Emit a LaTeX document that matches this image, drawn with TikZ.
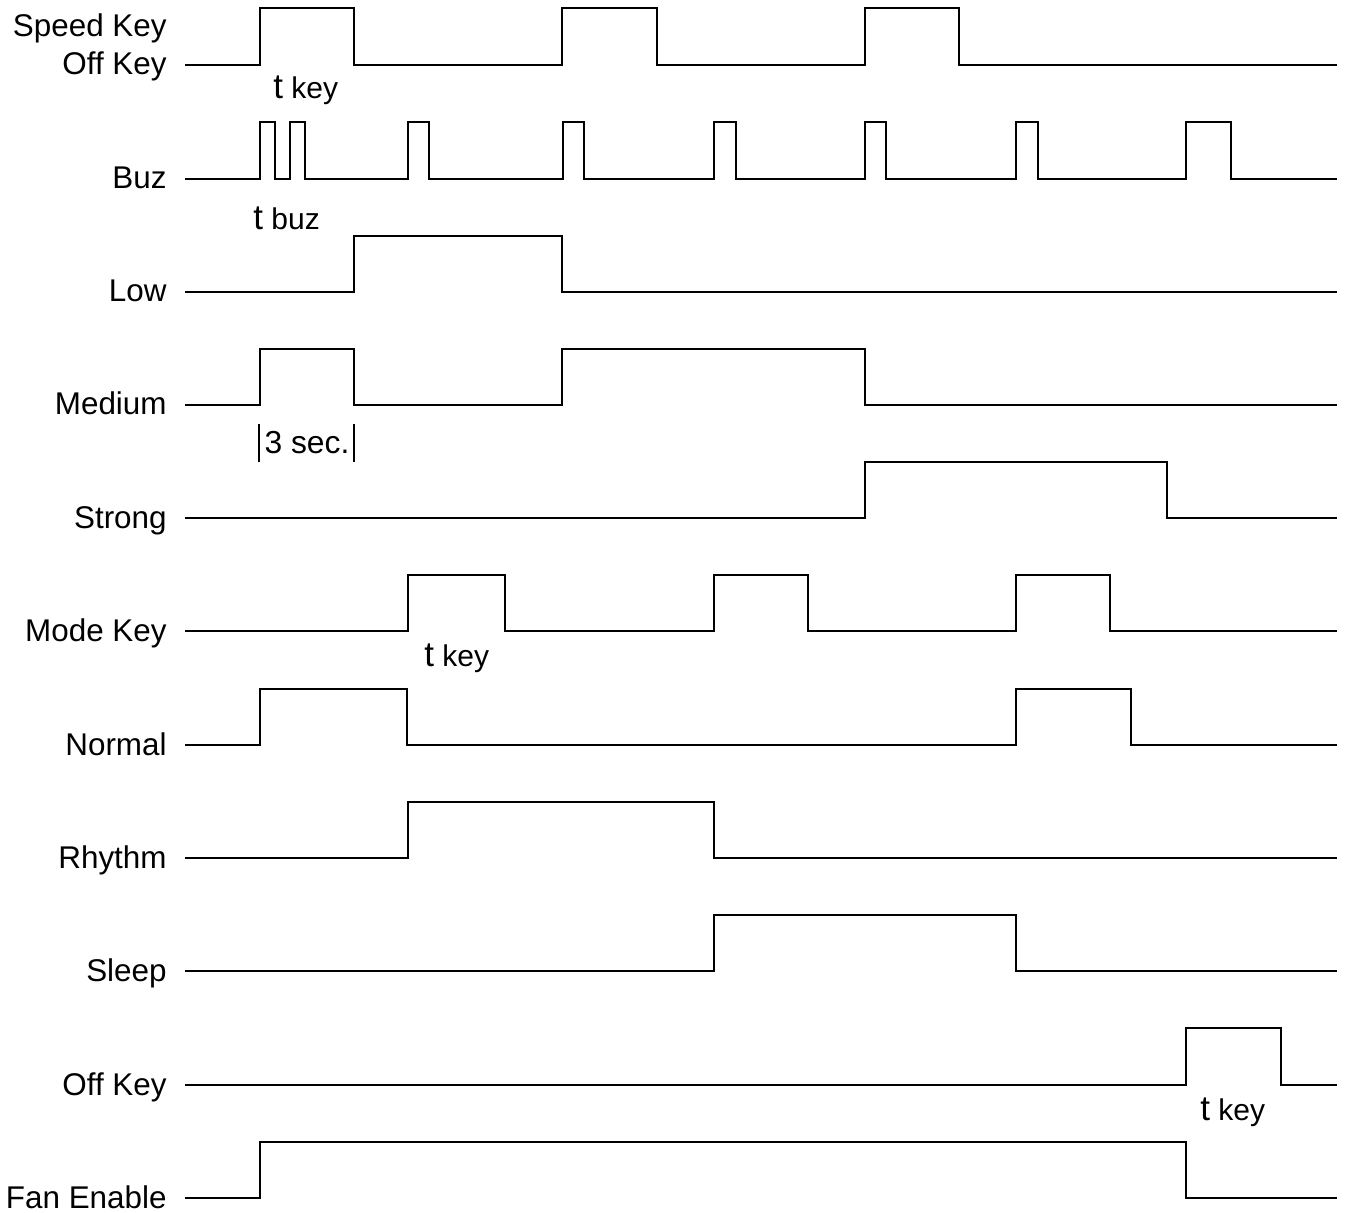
\documentclass[tikz,border=0pt]{standalone}
\usepackage{fontspec}
\setmainfont{Liberation Sans}
\usetikzlibrary{positioning}

\tikzset{
  wave/.style={line width=1pt, line join=miter},
  siglabel/.style={anchor=base east, inner sep=0pt, font=\fontsize{15.7}{17}\selectfont},
  timelabel/.style={anchor=base west, inner sep=0pt, font=\fontsize{15}{17}\selectfont}
}
\newcommand{\tbig}{{\fontsize{17.5}{19}\selectfont t}}

\begin{document}
\begin{tikzpicture}[x=0.5pt, y=-0.5pt]

    \useasboundingbox (0,0) rectangle (1347,1213);

    % speed key / off key
    \node[siglabel] (speedkey) at (167,37) {Speed Key};
    \node[siglabel] (offkeyA) at (167,75) {Off Key};
    \draw[wave] (185,65) -- (260,65) |- (354,8) |- (562,65) |- (657,8) |- (865,65) |- (959,8) |- (1337,65);

    % key time
    \node[timelabel] (tkeyA) at (273,99) {\tbig\ key};

    % buzzer
    \node[siglabel] (buz) at (167,189) {Buz};
    \draw[wave] (185,179) -- (260,179) |- (275,122) |- (290,179) |- (305,122) |- (408,179)
        |- (429,122) |- (563,179) |- (584,122) |- (714,179) |- (736,122) |- (865,179)
        |- (886,122) |- (1016,179) |- (1038,122) |- (1186,179) |- (1231,122) |- (1337,179);

    % buzzer time
    \node[timelabel] (tbuz) at (253,230) {\tbig\ buz};

    % low speed
    \node[siglabel] (low) at (167,302) {Low};
    \draw[wave] (185,292) -- (354,292) |- (562,236) |- (1337,292);

    % medium speed
    \node[siglabel] (medium) at (167,415) {Medium};
    \draw[wave] (185,405) -- (260,405) |- (354,349) |- (562,405) |- (865,349) |- (1337,405);

    % three seconds
    \node[anchor=base, inner sep=0pt, font=\fontsize{15.9}{17}\selectfont] (threesec) at (307,453) {3 sec.};
    \draw[line width=0.8pt] (259,424) -- (259,462);
    \draw[line width=0.8pt] (354,424) -- (354,462);

    % strong speed
    \node[siglabel] (strong) at (167,528) {Strong};
    \draw[wave] (185,518) -- (865,518) |- (1167,462) |- (1337,518);

    % mode key
    \node[siglabel] (modekey) at (167,641) {Mode Key};
    \draw[wave] (185,631) -- (408,631) |- (505,575) |- (714,631) |- (808,575) |- (1016,631) |- (1110,575) |- (1337,631);

    % key time
    \node[timelabel] (tkeyB) at (424,666) {\tbig\ key};

    % normal mode
    \node[siglabel] (normal) at (167,755) {Normal};
    \draw[wave] (185,745) -- (260,745) |- (407,689) |- (1016,745) |- (1131,689) |- (1337,745);

    % rhythm mode
    \node[siglabel] (rhythm) at (167,868) {Rhythm};
    \draw[wave] (185,858) -- (408,858) |- (714,802) |- (1337,858);

    % sleep mode
    \node[siglabel] (sleep) at (167,981) {Sleep};
    \draw[wave] (185,971) -- (714,971) |- (1016,915) |- (1337,971);

    % off key
    \node[siglabel] (offkeyB) at (167,1095) {Off Key};
    \draw[wave] (185,1085) -- (1186,1085) |- (1281,1028) |- (1337,1085);

    % key time
    \node[timelabel] (tkeyC) at (1200,1120) {\tbig\ key};

    % fan enable
    \node[siglabel] (fanenable) at (167,1208) {Fan Enable};
    \draw[wave] (185,1198) -- (260,1198) |- (1186,1142) |- (1337,1198);

\end{tikzpicture}
\end{document}
